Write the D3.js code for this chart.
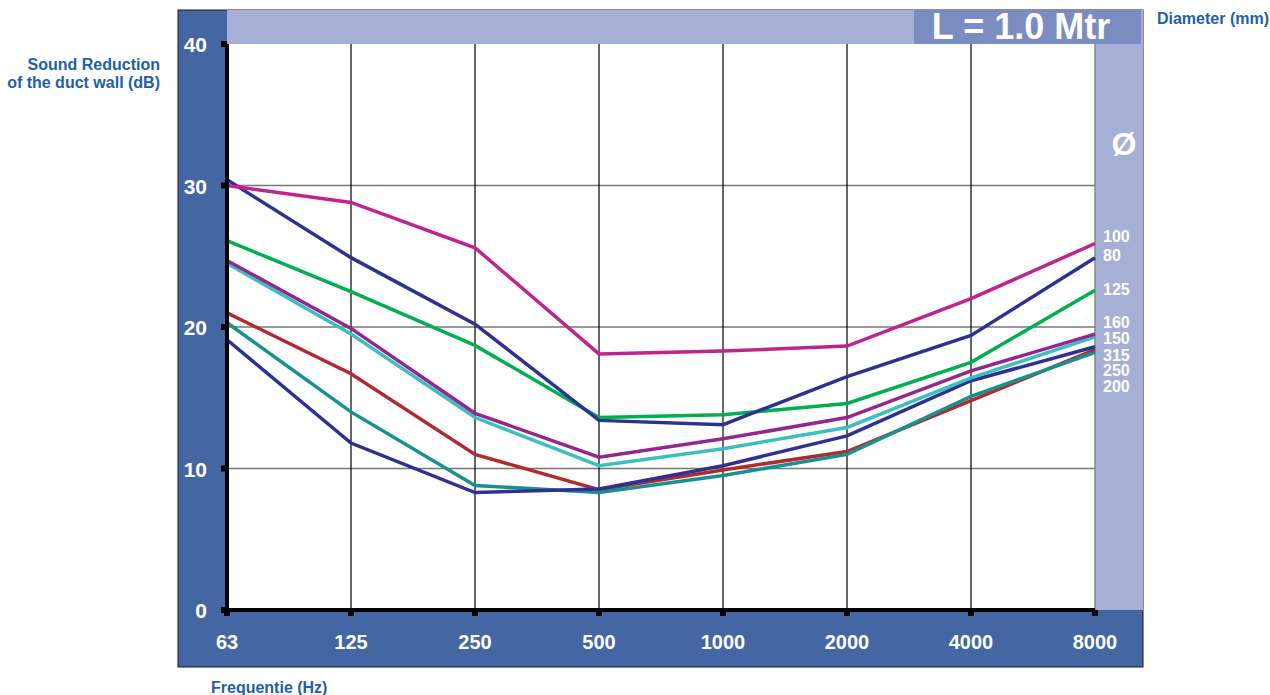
<!DOCTYPE html>
<html><head><meta charset="utf-8">
<script src="https://cdn.jsdelivr.net/npm/d3@7/dist/d3.min.js"></script>
<style>body{margin:0;background:#fff}svg{display:block;font-family:Arial,"Liberation Sans",sans-serif}</style>
</head><body><svg id="c" width="1270" height="695"></svg>
<script>
const frequencies = ["63","125","250","500","1000","2000","4000","8000"];
const yTicks = [0,10,20,30,40];
const diameters = ["100","80","125","160","150","315","250","200"];
const colors = ["#c0238f","#2e3192","#00b04f","#93278f","#3cbfbf","#2e3192","#b02a30","#17918f"];
const d100 = [30.0,28.8,25.6,18.1,18.3,18.65,22.0,25.9];
const d80  = [30.4,24.9,20.2,13.4,13.1,16.5,19.4,24.9];
const d125 = [26.1,22.5,18.7,13.6,13.8,14.6,17.5,22.6];
const d160 = [24.7,19.9,13.9,10.8,12.1,13.6,16.9,19.5];
const d150 = [24.5,19.5,13.6,10.2,11.4,12.9,16.4,19.3];
const d315 = [19.1,11.8,8.3,8.55,10.2,12.3,16.2,18.6];
const d250 = [21.0,16.7,11.0,8.5,9.9,11.2,14.8,18.4];
const d200 = [20.3,14.0,8.8,8.3,9.5,11.0,15.1,18.2];
const series = [d100,d80,d125,d160,d150,d315,d250,d200];
const drawOrder = [6,7,5,4,3,2,1,0];

const svg = d3.select("#c");
const L=227,R=1095,T=44,B=610;
const x = d3.scalePoint().domain(frequencies).range([L,R]);
const y = d3.scaleLinear().domain([0,40]).range([B,T]);
const dark="#4466a3", light="#a6b0d6", title="#7a8cc0", txt="#1f5fa8";

// frame
svg.append("rect").attr("x",178).attr("y",10).attr("width",965).attr("height",657).attr("fill",dark).attr("stroke","#1a1a2a").attr("stroke-width",1);
svg.append("rect").attr("x",L).attr("y",10).attr("width",1143-L).attr("height",T-10).attr("fill",light);
svg.append("rect").attr("x",R).attr("y",T).attr("width",1143-R).attr("height",B-T).attr("fill",light);
svg.append("rect").attr("x",914).attr("y",10).attr("width",227).attr("height",T-10).attr("fill",title);
svg.append("rect").attr("x",L).attr("y",T).attr("width",R-L).attr("height",B-T).attr("fill","#fff");
svg.append("line").attr("x1",R).attr("x2",R).attr("y1",T).attr("y2",B).attr("stroke","#888").attr("stroke-width",1.5);

// grid
svg.append("g").selectAll("line").data(yTicks.filter(d=>d>0&&d<40)).join("line")
  .attr("x1",L).attr("x2",R).attr("y1",d=>y(d)).attr("y2",d=>y(d)).attr("stroke","#777").attr("stroke-width",1.5);
svg.append("g").selectAll("line").data(frequencies.slice(1,-1)).join("line")
  .attr("x1",d=>x(d)).attr("x2",d=>x(d)).attr("y1",T).attr("y2",B).attr("stroke","#000").attr("stroke-width",1.2);

// lines
const line = d3.line().x((d,i)=>x(frequencies[i])).y(d=>y(d));
svg.append("g").selectAll("path").data(drawOrder).join("path")
  .attr("d",i=>line(series[i])).attr("fill","none").attr("stroke",i=>colors[i]).attr("stroke-width",3.5).attr("stroke-linejoin","miter");

// axes
svg.append("line").attr("x1",L).attr("x2",L).attr("y1",T).attr("y2",B+2).attr("stroke","#000").attr("stroke-width",4);
svg.append("line").attr("x1",L-2).attr("x2",R).attr("y1",B).attr("y2",B).attr("stroke","#000").attr("stroke-width",4);
svg.append("g").selectAll("rect").data(yTicks).join("rect")
  .attr("x",L-6).attr("y",d=>y(d)-3).attr("width",6).attr("height",6).attr("fill","#000");
svg.append("g").selectAll("rect").data(frequencies).join("rect")
  .attr("x",d=>x(d)-3).attr("y",B).attr("width",6).attr("height",6).attr("fill","#000");

// tick labels
svg.append("g").selectAll("text").data(yTicks).join("text")
  .attr("x",207).attr("y",d=>y(d)+8).attr("text-anchor","end").attr("fill","#fff")
  .attr("font-weight","bold").attr("font-size",21).text(d=>d);
svg.append("g").selectAll("text").data(frequencies).join("text")
  .attr("x",d=>x(d)).attr("y",649).attr("text-anchor","middle").attr("fill","#fff")
  .attr("font-weight","bold").attr("font-size",20).text(d=>d);

// diameter labels
svg.append("g").selectAll("text").data(diameters).join("text")
  .attr("x",1103).attr("y",(d,i)=>[242,261,295,328,344,361,376,392][i]).attr("fill","#fff")
  .attr("font-weight","bold").attr("font-size",16).text(d=>d);
svg.append("text").attr("x",1124).attr("y",155).attr("text-anchor","middle").attr("fill","#fff")
  .attr("font-weight","bold").attr("font-size",32).text("Ø");

// title
svg.append("text").attr("x",1021).attr("y",39).attr("text-anchor","middle").attr("fill","#fff")
  .attr("font-weight","bold").attr("font-size",36).text("L = 1.0 Mtr");

// axis titles
const at = svg.append("g").attr("fill",txt).attr("font-weight","bold").attr("font-size",16);
at.append("text").attr("x",160).attr("y",70).attr("text-anchor","end").text("Sound Reduction");
at.append("text").attr("x",160).attr("y",88).attr("text-anchor","end").text("of the duct wall (dB)");
at.append("text").attr("x",1269).attr("y",24).attr("text-anchor","end").text("Diameter (mm)");
at.append("text").attr("x",211).attr("y",693).text("Frequentie (Hz)");
</script></body></html>
